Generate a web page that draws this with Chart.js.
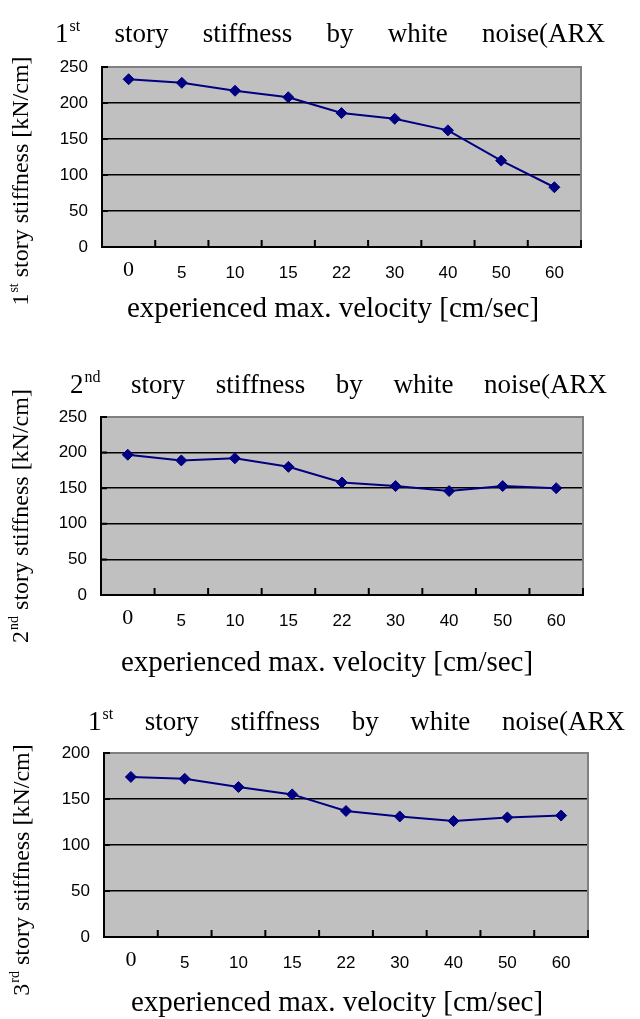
<!DOCTYPE html>
<html>
<head>
<meta charset="utf-8">
<script src="https://cdn.jsdelivr.net/npm/chart.js@4.4.1/dist/chart.umd.min.js"></script>
<style>
  html, body { margin: 0; padding: 0; background: #fff; }
  body { width: 640px; height: 1019px; position: relative; overflow: hidden; }
  canvas { position: absolute; left: 0; }
</style>
</head>
<body>
<canvas id="story1" width="640" height="335" style="top:0px"></canvas>
<canvas id="story2" width="640" height="350" style="top:335px"></canvas>
<canvas id="story3" width="640" height="334" style="top:685px"></canvas>
<script>
// Experienced maximum velocity steps [cm/sec]
const velocities = ['0', '5', '10', '15', '22', '30', '40', '50', '60'];

// Identified story stiffness [kN/cm]
const story1Stiffness = [233, 228, 217, 208, 186, 178, 162, 120, 83];
const story2Stiffness = [197, 189, 192, 180, 158, 153, 146, 153, 150];
const story3Stiffness = [174, 172, 163, 155, 137, 131, 126, 130, 132];

// Value-axis ranges
const yMax1 = 250;
const yMax2 = 250;
const yMax3 = 200;
const yStep = 50;

// Text
const chartTitles = [
  { lead: '1', sup: 'st', words: ['story', 'stiffness', 'by', 'white', 'noise(ARX'] },
  { lead: '2', sup: 'nd', words: ['story', 'stiffness', 'by', 'white', 'noise(ARX'] },
  { lead: '1', sup: 'st', words: ['story', 'stiffness', 'by', 'white', 'noise(ARX'] }
];
const yTitles = [
  { lead: '1', sup: 'st', rest: ' story stiffness [kN/cm]' },
  { lead: '2', sup: 'nd', rest: ' story stiffness [kN/cm]' },
  { lead: '3', sup: 'rd', rest: ' story stiffness [kN/cm]' }
];
const xTitle = 'experienced max. velocity [cm/sec]';

const SERIF = '"Liberation Serif", "Times New Roman", Times, serif';
const NARROW = '"Liberation Sans Narrow", "Arial Narrow", "Liberation Sans", Arial, sans-serif';

// Per-panel geometry (canvas-relative pixels)
const panels = [
  { id: 'story1', data: story1Stiffness, yMax: yMax1,
    pad: { top: 67, right: 59, bottom: 48 }, yWidth: 102,
    titleSpan: [55, 605], titleBase: 42,
    yTitle: { x: 20, y: 181 }, xTitlePos: { x: 333, y: 317 } },
  { id: 'story2', data: story2Stiffness, yMax: yMax2,
    pad: { top: 82, right: 57, bottom: 50 }, yWidth: 101,
    titleSpan: [70, 607], titleBase: 58,
    yTitle: { x: 20, y: 181 }, xTitlePos: { x: 327, y: 336 } },
  { id: 'story3', data: story3Stiffness, yMax: yMax3,
    pad: { top: 68, right: 52, bottom: 42 }, yWidth: 104,
    titleSpan: [88, 625], titleBase: 45,
    yTitle: { x: 21, y: 185 }, xTitlePos: { x: 337, y: 326 } }
];

// Draws "lead" + superscript + rest starting at x (left aligned), returns end x
function drawSupRun(ctx, lead, sup, rest, x, y, size) {
  const supSize = Math.round(size * 0.6);
  ctx.font = size + 'px ' + SERIF;
  ctx.fillText(lead, x, y);
  x += ctx.measureText(lead).width;
  ctx.font = supSize + 'px ' + SERIF;
  ctx.fillText(sup, x + 1, y - size * 0.42);
  x += ctx.measureText(sup).width + 1;
  if (rest) {
    ctx.font = size + 'px ' + SERIF;
    ctx.fillText(rest, x, y);
    x += ctx.measureText(rest).width;
  }
  return x;
}
function supRunWidth(ctx, lead, sup, rest, size) {
  const supSize = Math.round(size * 0.6);
  ctx.font = size + 'px ' + SERIF;
  let w = ctx.measureText(lead).width + (rest ? ctx.measureText(rest).width : 0);
  ctx.font = supSize + 'px ' + SERIF;
  w += ctx.measureText(sup).width + 1;
  return w;
}

const framePlugin = {
  id: 'excelFrame',
  beforeDraw(chart) {
    const { ctx, chartArea: a } = chart;
    ctx.save();
    ctx.fillStyle = '#C0C0C0';
    ctx.fillRect(a.left, a.top, a.right - a.left, a.bottom - a.top);
    ctx.restore();
  },
  beforeDatasetsDraw(chart) {
    const { ctx, chartArea: a } = chart;
    const xs = chart.scales.x, ys = chart.scales.y;
    ctx.save();
    // grey top / right border of the plot area
    ctx.strokeStyle = '#808080';
    ctx.lineWidth = 2;
    ctx.beginPath();
    ctx.moveTo(a.left, a.top);
    ctx.lineTo(a.right, a.top);
    ctx.lineTo(a.right, a.bottom);
    ctx.stroke();
    // inward tick marks between categories
    ctx.strokeStyle = '#000';
    ctx.lineWidth = 2;
    ctx.beginPath();
    const n = xs.ticks.length;
    for (let i = 1; i <= n; i++) {
      const px = i < n ? (xs.getPixelForTick(i - 1) + xs.getPixelForTick(i)) / 2 : a.right;
      ctx.moveTo(px, a.bottom);
      ctx.lineTo(px, a.bottom - 7);
    }
    // inward tick marks on the value axis
    ys.ticks.forEach(t => {
      const py = ys.getPixelForValue(t.value);
      ctx.moveTo(a.left, py);
      ctx.lineTo(a.left + 6, py);
    });
    ctx.stroke();
    ctx.restore();
  },
  afterDraw(chart) {
    const { ctx } = chart;
    const p = chart.options.plugins.excelFrame;
    ctx.save();
    ctx.fillStyle = '#000';
    ctx.textBaseline = 'alphabetic';
    ctx.textAlign = 'left';

    // justified chart title
    const size = 27;
    const t = p.title;
    const firstW = supRunWidth(ctx, t.lead, t.sup, '', size);
    ctx.font = size + 'px ' + SERIF;
    const wordW = t.words.map(w => ctx.measureText(w).width);
    const total = firstW + wordW.reduce((s, v) => s + v, 0);
    const gap = (p.titleSpan[1] - p.titleSpan[0] - total) / t.words.length;
    let x = p.titleSpan[0];
    drawSupRun(ctx, t.lead, t.sup, '', x, p.titleBase, size);
    x += firstW + gap;
    ctx.font = size + 'px ' + SERIF;
    t.words.forEach((w, i) => {
      ctx.fillText(w, x, p.titleBase);
      x += wordW[i] + gap;
    });

    // rotated value-axis title
    const ysz = 24;
    const yt = p.yTitle;
    const yw = supRunWidth(ctx, yt.lead, yt.sup, yt.rest, ysz);
    ctx.save();
    ctx.translate(p.yTitlePos.x + ysz * 0.33, p.yTitlePos.y);
    ctx.rotate(-Math.PI / 2);
    drawSupRun(ctx, yt.lead, yt.sup, yt.rest, -yw / 2, 0, ysz);
    ctx.restore();

    // category-axis title
    ctx.font = '29px ' + SERIF;
    ctx.textAlign = 'center';
    ctx.fillText(p.xTitle, p.xTitlePos.x, p.xTitlePos.y);
    ctx.restore();
  }
};

panels.forEach((pn, idx) => {
  new Chart(document.getElementById(pn.id), {
    type: 'line',
    data: {
      labels: velocities,
      datasets: [{
        data: pn.data,
        borderColor: '#000080',
        backgroundColor: '#000080',
        borderWidth: 2,
        pointStyle: 'rectRot',
        pointRadius: 5.5,
        pointHoverRadius: 5.5,
        pointBackgroundColor: '#000080',
        pointBorderColor: '#000080',
        pointBorderWidth: 1,
        tension: 0,
        fill: false
      }]
    },
    options: {
      responsive: false,
      animation: false,
      events: [],
      layout: { padding: { top: pn.pad.top, right: pn.pad.right, bottom: pn.pad.bottom, left: 0 } },
      plugins: {
        legend: { display: false },
        tooltip: { enabled: false },
        excelFrame: {
          title: chartTitles[idx],
          titleSpan: pn.titleSpan,
          titleBase: pn.titleBase,
          yTitle: yTitles[idx],
          yTitlePos: pn.yTitle,
          xTitle: xTitle,
          xTitlePos: pn.xTitlePos
        }
      },
      scales: {
        x: {
          offset: true,
          grid: { display: false, drawTicks: false },
          border: { display: true, color: '#000', width: 2 },
          ticks: {
            color: '#000',
            autoSkip: false,
            maxRotation: 0,
            padding: 15,
            font: (c) => c.index === 0
              ? { family: SERIF, size: 22, lineHeight: '16px' }
              : { family: NARROW, size: 17, lineHeight: '22px' }
          },
          afterFit: (s) => { s.height = 40; }
        },
        y: {
          min: 0,
          max: pn.yMax,
          grid: {
            drawTicks: false,
            color: (c) => (c.tick && c.tick.value === pn.yMax) ? 'rgba(0,0,0,0)' : '#000',
            lineWidth: 1.5
          },
          border: { display: true, color: '#000', width: 2 },
          ticks: {
            stepSize: yStep,
            color: '#000',
            padding: 14,
            font: { family: NARROW, size: 17 }
          },
          afterFit: (s) => { s.width = pn.yWidth; }
        }
      }
    },
    plugins: [framePlugin]
  });
});
</script>
</body>
</html>
